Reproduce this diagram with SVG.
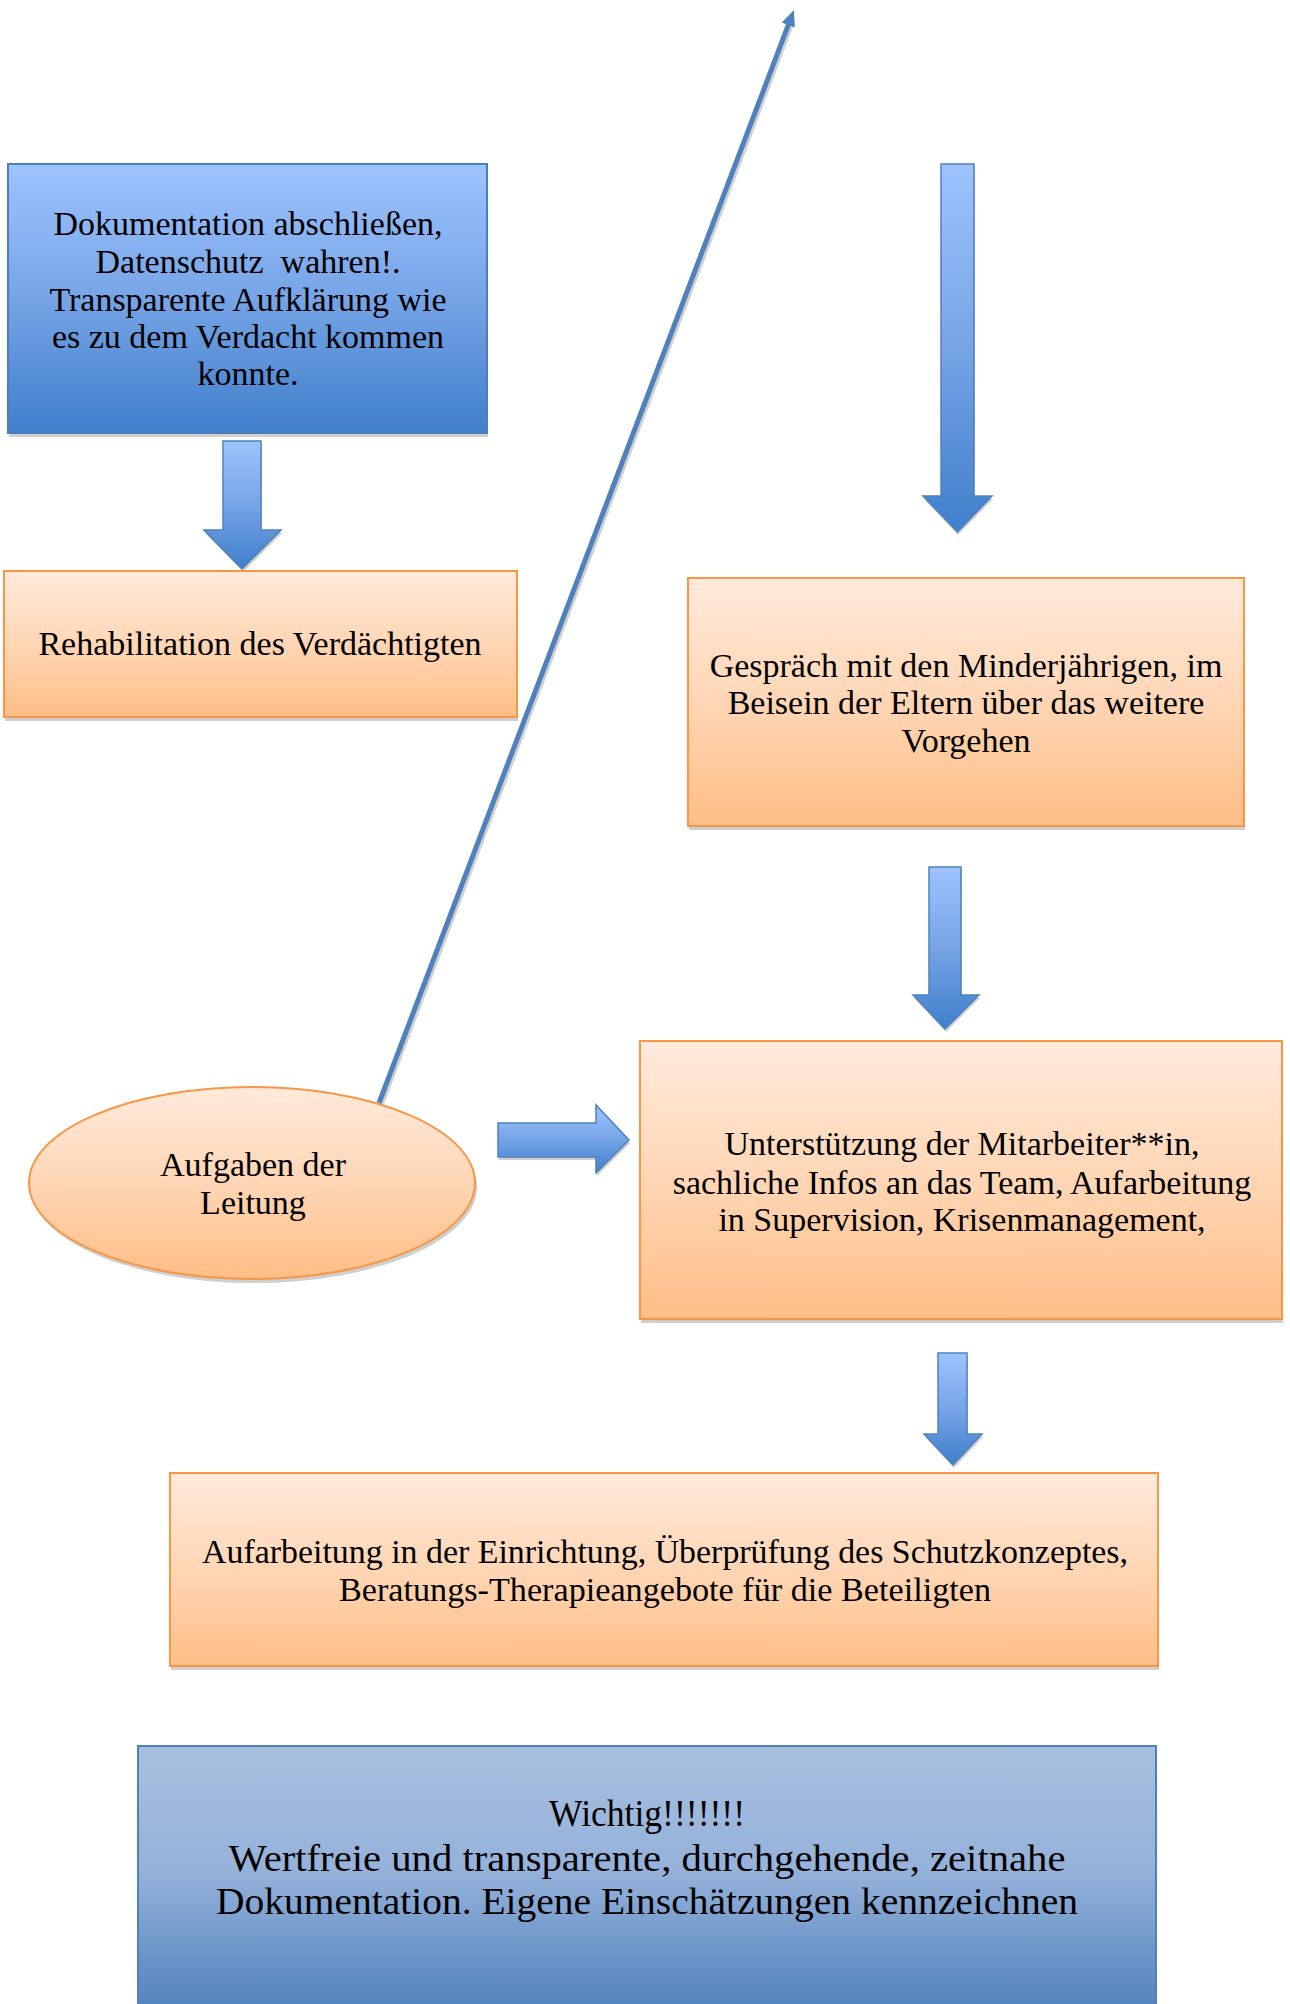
<svg xmlns="http://www.w3.org/2000/svg" width="1290" height="2004" viewBox="0 0 1290 2004">
<defs>
<linearGradient id="gBlue" x1="0" y1="0" x2="0" y2="1">
<stop offset="0" stop-color="#9ec3ff"/><stop offset="0.5" stop-color="#76a4e6"/><stop offset="1" stop-color="#3f7fcb"/>
</linearGradient>
<linearGradient id="gOrange" x1="0" y1="0" x2="0" y2="1">
<stop offset="0" stop-color="#ffeadb"/><stop offset="0.5" stop-color="#ffd6b5"/><stop offset="1" stop-color="#ffbe86"/>
</linearGradient>
<linearGradient id="gSteel" x1="0" y1="0" x2="0" y2="1">
<stop offset="0" stop-color="#a8c0e0"/><stop offset="0.45" stop-color="#96b2da"/><stop offset="1" stop-color="#4f81bd"/>
</linearGradient>
<marker id="tip" viewBox="0 0 16 14" markerWidth="16" markerHeight="14" refX="6" refY="7" orient="auto" markerUnits="userSpaceOnUse">
<path d="M0,0 L16,7 L0,14 z" fill="#4f81bd"/>
</marker>
<style>
.t{font-family:"Liberation Serif","Times New Roman",serif;font-size:34px;fill:#000;text-anchor:middle}
.big{font-size:38px}
.shadow{fill:#cfcfcf}
.blue{fill:url(#gBlue);stroke:#4a7ebb;stroke-width:2}
.orange{fill:url(#gOrange);stroke:#f79646;stroke-width:2}
.steel{fill:url(#gSteel);stroke:#4f81bd;stroke-width:2}
.arrow{fill:url(#gBlue);stroke:#4f81bd;stroke-width:1.5}
</style>
</defs>
<rect width="1290" height="2004" fill="#fff"/>

<g id="connectors">
<line x1="381" y1="1106" x2="792.4" y2="22.4" stroke="#d0d0d0" stroke-width="4.5"/>
<line x1="379" y1="1103" x2="790.4" y2="19.4" stroke="#4f81bd" stroke-width="5" marker-end="url(#tip)"/>
<g id="arrow1">
<path class="shadow" d="M224,444 H262 V533 H282 L243,572 L205,533 H224 Z"/>
<path class="arrow" d="M223,441 H261 V530 H281 L242,569 L204,530 H223 Z"/>
</g>
<g id="arrow2">
<path class="shadow" d="M942,167 H975 V499 H993 L958,535 L924,499 H942 Z"/>
<path class="arrow" d="M941,164 H974 V496 H992 L957.5,532 L923,496 H941 Z"/>
</g>
<g id="arrow3">
<path class="shadow" d="M930,870 H962 V998 H980 L946,1032 L914,998 H930 Z"/>
<path class="arrow" d="M929,867 H961 V995 H979 L945,1029 L913,995 H929 Z"/>
</g>
<g id="arrow4">
<path class="shadow" d="M939,1356 H968 V1437 H983 L954,1468 L925,1437 H939 Z"/>
<path class="arrow" d="M938,1353 H967 V1434 H982 L953,1465 L924,1434 H938 Z"/>
</g>
<g id="arrow5">
<path class="shadow" d="M499,1126 H597 V1108 L630,1143 L597,1176 V1160 H499 Z"/>
<path class="arrow" d="M498,1123 H596 V1105 L629,1140 L596,1173 V1157 H498 Z"/>
</g>
</g>

<g id="node-dokumentation">
<rect class="shadow" x="9" y="168" width="479" height="269"/>
<rect class="blue" x="8" y="164" width="479" height="269"/>
<text class="t" x="248" y="235">Dokumentation abschließen,</text>
<text class="t" x="248" y="273" xml:space="preserve">Datenschutz  wahren!.</text>
<text class="t" x="248" y="311">Transparente Aufklärung wie</text>
<text class="t" x="248" y="348">es zu dem Verdacht kommen</text>
<text class="t" x="248" y="385">konnte.</text>
</g>

<g id="node-rehabilitation">
<rect class="shadow" x="5" y="575" width="513" height="146"/>
<rect class="orange" x="4" y="571" width="513" height="146"/>
<text class="t" x="260" y="655">Rehabilitation des Verdächtigten</text>
</g>

<g id="node-gespraech">
<rect class="shadow" x="689" y="582" width="556" height="248"/>
<rect class="orange" x="688" y="578" width="556" height="248"/>
<text class="t" x="966" y="677">Gespräch mit den Minderjährigen, im</text>
<text class="t" x="966" y="714">Beisein der Eltern über das weitere</text>
<text class="t" x="966" y="752">Vorgehen</text>
</g>

<g id="node-leitung">
<ellipse class="shadow" cx="254" cy="1187" rx="223" ry="96"/>
<ellipse class="orange" cx="252" cy="1183" rx="223" ry="96"/>
<text class="t" x="253" y="1176">Aufgaben der</text>
<text class="t" x="253" y="1214">Leitung</text>
</g>

<g id="node-unterstuetzung">
<rect class="shadow" x="641" y="1045" width="642" height="278"/>
<rect class="orange" x="640" y="1041" width="642" height="278"/>
<text class="t" x="962" y="1155">Unterstützung der Mitarbeiter**in,</text>
<text class="t" x="962" y="1194">sachliche Infos an das Team, Aufarbeitung</text>
<text class="t" x="962" y="1231">in Supervision, Krisenmanagement,</text>
</g>

<g id="node-aufarbeitung">
<rect class="shadow" x="171" y="1477" width="988" height="193"/>
<rect class="orange" x="170" y="1473" width="988" height="193"/>
<text class="t" x="665" y="1563" textLength="926" lengthAdjust="spacingAndGlyphs">Aufarbeitung in der Einrichtung, Überprüfung des Schutzkonzeptes,</text>
<text class="t" x="665" y="1601" textLength="652" lengthAdjust="spacingAndGlyphs">Beratungs-Therapieangebote für die Beteiligten</text>
</g>

<g id="node-wichtig">
<rect class="steel" x="138" y="1746" width="1018" height="270"/>
<text class="t big" x="647" y="1826" textLength="196" lengthAdjust="spacingAndGlyphs">Wichtig!!!!!!!</text>
<text class="t big" x="647" y="1871" textLength="837" lengthAdjust="spacingAndGlyphs">Wertfreie und transparente, durchgehende, zeitnahe</text>
<text class="t big" x="647" y="1914" textLength="862" lengthAdjust="spacingAndGlyphs">Dokumentation. Eigene Einschätzungen kennzeichnen</text>
</g>
</svg>
